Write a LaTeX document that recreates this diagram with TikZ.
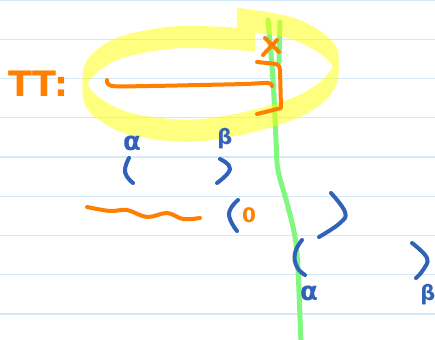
\documentclass[tikz,border=0pt]{standalone}
\usepackage{fontspec}
\newfontfamily\handfont{DejaVu Sans}
\definecolor{hlyellow}{HTML}{FFFF00}
\definecolor{penorange}{HTML}{FF8000}
\definecolor{penblue}{HTML}{2F62B8}
\definecolor{pengreen}{HTML}{80F880}
\definecolor{ruleblue}{HTML}{D4EAF8}
\tikzset{
  ruleline/.style={ruleblue, line width=1.3pt},
  orangepen/.style={penorange, line width=4pt, line cap=round, line join=round},
  bluepen/.style={penblue, line width=4pt, line cap=round, line join=round},
  greenpen/.style={pengreen, line width=5pt, line cap=round, line join=round},
  hlpen/.style={hlyellow, line width=2.6pt},
  orangetext/.style={text=penorange, inner sep=0pt},
  bluetext/.style={text=penblue, inner sep=0pt},
}
\begin{document}
\begin{tikzpicture}[x=1pt,y=-1pt]
\fill[white] (0,0) rectangle (435,339);
\useasboundingbox (0,0) rectangle (435,339);
% ruled paper
\foreach \yy in {0.5,39.25,78.5,117.75,157,196.25,235.5,274.75,314}
  \draw[ruleline] (0,\yy) -- (435,\yy);
% green line
\draw[greenpen] plot[smooth, tension=0.6] coordinates {(268,20) (273,80) (276,140) (278,170) (287,203) (295,237) (298,270) (301,345)};
\draw[greenpen] (280,22) -- (279,62);
% yellow highlighter loop
\begin{scope}[transparency group, opacity=0.5]
\foreach \d in {-9.5,-8,...,10}
  \draw[hlpen, yshift=\d pt] plot[smooth, tension=0.55] coordinates {(237,19) (290,28) (322,44) (337,63) (328,86) (300,106) (250,122) (190,131) (130,124) (95,106) (84,86) (92,66) (120,48) (170,38) (220,38) (255,41)};
\end{scope}
% orange marks
\node[orangetext, anchor=west, font=\handfont\bfseries\fontsize{35}{35}\selectfont] (tt) at (8,83.5) {TT:};
\draw[orangepen] plot[smooth, tension=0.5] coordinates {(107,80) (112,86) (150,86) (200,85) (245,84) (268,83) (272,86)};
\draw[orangepen] (257,62) -- (276,64) to[out=0,in=90] (280,70) -- (281,108) -- (257,114);
\draw[orangepen] (265,38) -- (279,52);
\draw[orangepen] (277,40) -- (263,55);
\draw[orangepen] plot[smooth, tension=0.6] coordinates {(87,207) (110,211) (127,210) (147,217) (167,213) (183,219) (200,218)};
\node[orangetext, font=\handfont\bfseries\fontsize{20}{20}\selectfont] (zero) at (249,215.5) {0};
% blue marks
\node[bluetext, font=\handfont\bfseries\fontsize{26}{26}\selectfont] (alphaA) at (132,143) {α};
\node[bluetext, font=\handfont\bfseries\fontsize{21}{21}\selectfont] (betaA) at (225,139) {β};
\node[bluetext, font=\handfont\bfseries\fontsize{26}{26}\selectfont] (alphaB) at (309,293) {α};
\node[bluetext, font=\handfont\bfseries\fontsize{21}{21}\selectfont] (betaB) at (428,295) {β};
\draw[bluepen] plot[smooth, tension=0.8] coordinates {(129,158) (125,172) (133,183)};
\draw[bluepen] plot[smooth, tension=0.8] coordinates {(220,159) (230,169) (217,183)};
\draw[bluepen] plot[smooth, tension=0.8] coordinates {(238,200) (229,214) (237,231)};
\draw[bluepen] plot[smooth, tension=0.7] coordinates {(331,193) (345,212) (340,223) (319,237)};
\draw[bluepen] plot[smooth, tension=0.8] coordinates {(302,240) (295,253) (297,267) (305,275)};
\draw[bluepen] plot[smooth, tension=0.7] coordinates {(412,243) (427,258) (423,270) (416,278)};
\end{tikzpicture}
\end{document}
